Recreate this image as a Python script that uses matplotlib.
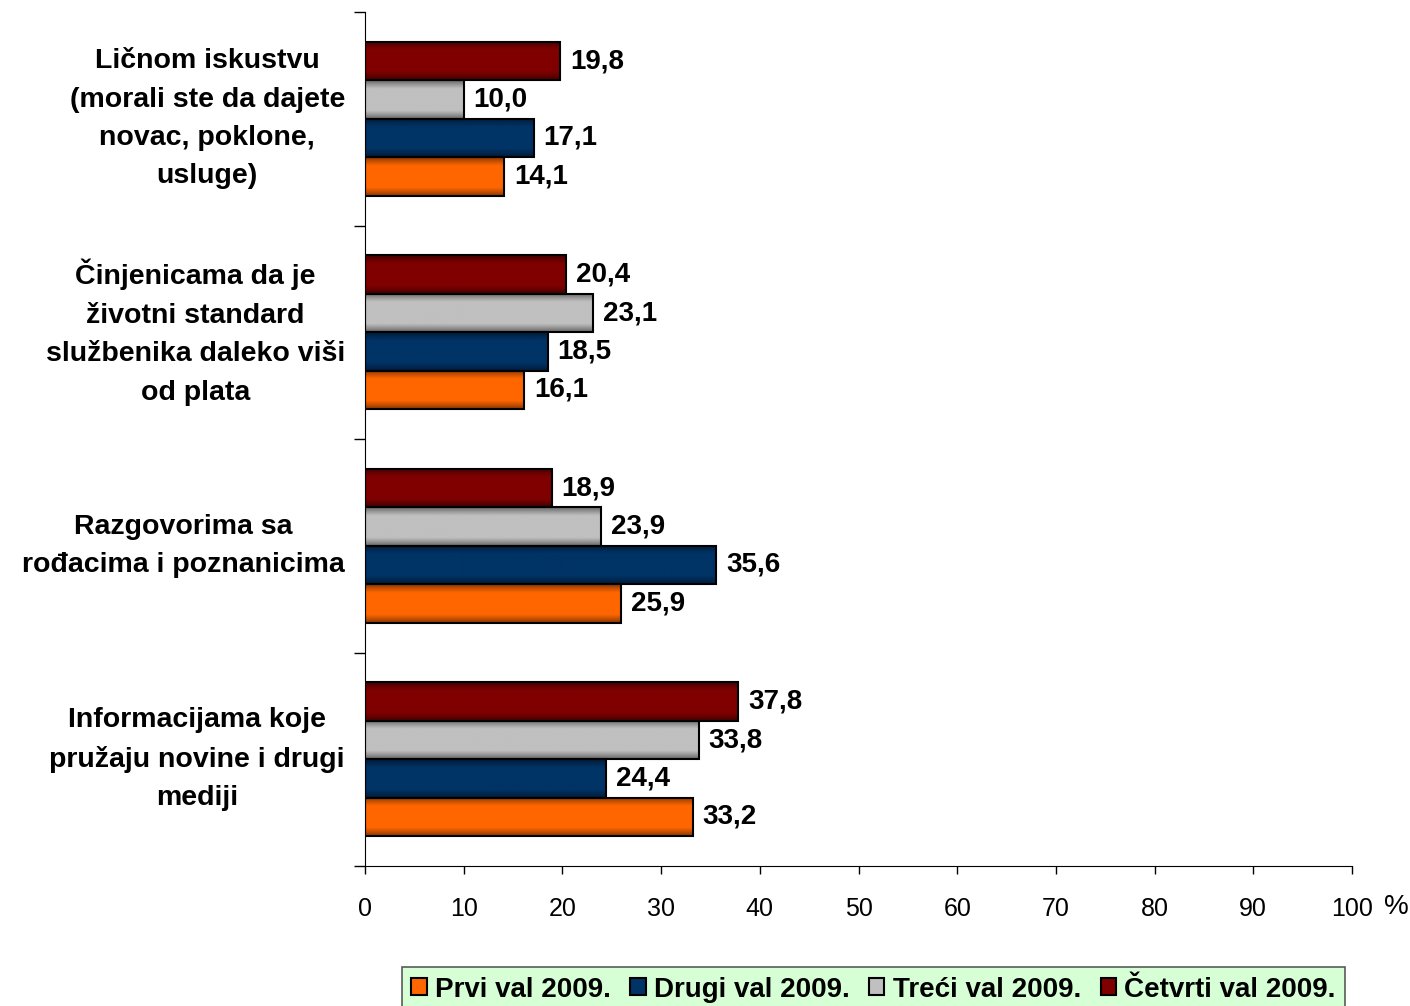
import matplotlib
matplotlib.use('Agg')
import matplotlib.pyplot as plt
import matplotlib.colors as mcolors
import numpy as np

plt.rcParams['font.family'] = ['Liberation Sans', 'DejaVu Sans']

# categories top to bottom
categories = ['Ličnom iskustvu\n(morali ste da dajete\nnovac, poklone,\nusluge)',
              'Činjenicama da je\nživotni standard\nslužbenika daleko viši\nod plata',
              'Razgovorima sa\nrođacima i poznanicima',
              'Informacijama koje\npružaju novine i drugi\nmediji']

series = ['Prvi val 2009.', 'Drugi val 2009.', 'Treći val 2009.', 'Četvrti val 2009.']
prvi = [14.1, 16.1, 25.9, 33.2]
drugi = [17.1, 18.5, 35.6, 24.4]
treci = [10.0, 23.1, 23.9, 33.8]
cetvrti = [19.8, 20.4, 18.9, 37.8]
colors = ['#FF6600', '#003366', '#C0C0C0', '#800000']
xticks = [0, 10, 20, 30, 40, 50, 60, 70, 80, 90, 100]

fig = plt.figure(figsize=(14.1, 10.06), dpi=100)
ax = fig.add_axes([365/1410, 140/1006, 987/1410, 854/1006])


def shade(col, n=40):
    # darker at top and bottom edges, full colour in the middle
    rgb = np.array(mcolors.to_rgb(col))
    t = np.linspace(0, 1, n)
    f = 0.55 + 0.45 * np.clip(np.sin(np.pi * t) * 1.6, 0, 1)
    return (f[:, None] * rgb[None, :])[:, None, :]


bh = 0.18
y = np.arange(len(categories)) + 0.5
# offsets: Prvi lowest, Četvrti on top
offsets = [1.5*bh, 0.5*bh, -0.5*bh, -1.5*bh]
for vals, off, col, name in zip([prvi, drugi, treci, cetvrti], offsets, colors, series):
    b = ax.barh(y + off, vals, height=bh, color=col, edgecolor='black', lw=1.5, label=name, zorder=3)
    for p in b.patches:
        x0, y0 = p.get_x(), p.get_y()
        im = ax.imshow(shade(col), extent=[x0, x0 + p.get_width(), y0 + bh, y0],
                       aspect='auto', zorder=2, interpolation='bilinear')
        im.set_clip_path(p)
        p.set_facecolor('none')
    for yy, v in zip(y + off, vals):
        ax.text(v + 1.0, yy, f'{v:.1f}'.replace('.', ','), va='center', ha='left',
                fontsize=20, fontweight='bold')

for yy, lab in zip(y, categories):
    ax.text(-0.0203, yy, lab, transform=ax.get_yaxis_transform(), ha='right', va='center',
            multialignment='center', fontsize=20.5, fontweight='bold', linespacing=1.62)

ax.set_ylim(4, 0)
ax.set_xlim(0, 100)
ax.set_yticks([0, 1, 2, 3, 4])
ax.set_yticklabels([])
ax.set_xticks(xticks)
ax.set_xticklabels([str(t) for t in xticks], fontsize=18)
ax.tick_params(axis='x', direction='out', length=6, width=1, pad=16)
ax.tick_params(axis='y', direction='out', length=8, width=1)
ax.spines['top'].set_visible(False)
ax.spines['right'].set_visible(False)
ax.text(1.032, -0.0475, '%', transform=ax.transAxes, ha='left', va='center', fontsize=20)

leg_handles = [plt.Rectangle((0, 0), 1, 1, facecolor=c, edgecolor='black', lw=1.5) for c in colors]
leg = fig.legend(handles=leg_handles, labels=series, loc='upper center', ncol=4,
                 bbox_to_anchor=(0.6195, 0.0388), frameon=True, fancybox=False,
                 prop={'family': ['Liberation Sans Narrow', 'Liberation Sans'], 'weight': 'bold', 'size': 20},
                 handlelength=0.55, handleheight=0.55, handletextpad=0.3, columnspacing=0.7,
                 borderpad=0.35, borderaxespad=0)
leg.get_frame().set_facecolor('#CCFFCC')
leg.get_frame().set_edgecolor('#333333')
leg.get_frame().set_linewidth(1.2)

fig.savefig('out.png', dpi=100)
